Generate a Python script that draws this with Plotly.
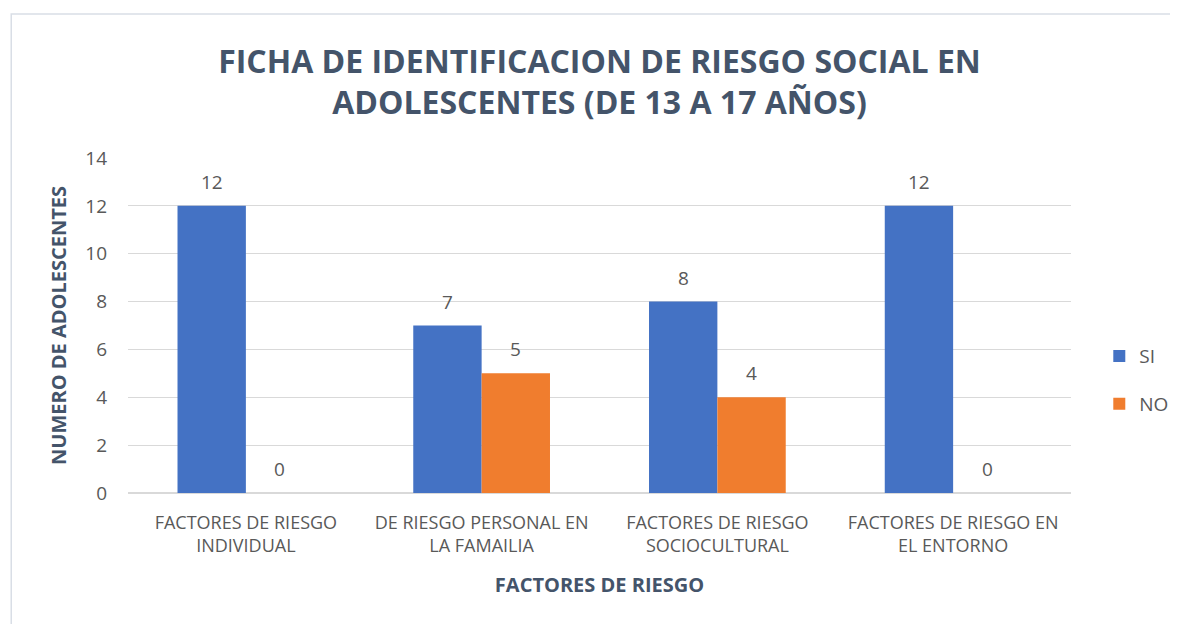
import plotly.graph_objects as go

categories = [
    "FACTORES DE RIESGO<br>INDIVIDUAL",
    "DE RIESGO PERSONAL EN<br>LA FAMAILIA",
    "FACTORES DE RIESGO<br>SOCIOCULTURAL",
    "FACTORES DE RIESGO EN<br>EL ENTORNO",
]
si_values = [12, 7, 8, 12]
no_values = [0, 5, 4, 0]
y_ticks = [0, 2, 4, 6, 8, 10, 12, 14]

FONT = "Open Sans"
TXT = "#44546A"
TICK = "#595959"

fig = go.Figure()
fig.add_trace(go.Bar(
    name="SI", x=categories, y=si_values, legendgroup="si",
    marker=dict(color="#4472C4", line=dict(width=0)),
))
fig.add_trace(go.Bar(
    name="NO", x=categories, y=no_values, legendgroup="no",
    marker=dict(color="#F07D2E", line=dict(width=0)),
))

annotations = []
for vals, shift in ((si_values, -34), (no_values, 34)):
    for c, v in zip(categories, vals):
        annotations.append(dict(
            x=c, y=v, xref="x", yref="y", text=str(v), showarrow=False,
            xshift=shift, yshift=24, yanchor="middle",
            font=dict(size=19, color=TICK, family=FONT),
        ))

PW = 1178 - 120 - 105
fig.update_layout(
    width=1178, height=624,
    paper_bgcolor="white", plot_bgcolor="white",
    margin=dict(l=120, r=105, t=150, b=139),
    barmode="group", bargap=0.42, bargroupgap=0,
    title=dict(
        text="<b>FICHA DE IDENTIFICACION DE RIESGO SOCIAL EN<br>ADOLESCENTES (DE 13 A 17 AÑOS)</b>",
        x=0.5, xanchor="center", xref="paper", y=0.896, yanchor="top",
        font=dict(size=32, color=TXT, family=FONT),
    ),
    font=dict(family=FONT, color=TICK),
    legend=dict(
        x=1.03, xanchor="left", y=0.337, yanchor="middle",
        font=dict(size=19, color=TICK, family=FONT),
        tracegroupgap=20, itemsizing="constant",
        bgcolor="rgba(0,0,0,0)",
    ),
    xaxis=dict(
        title=dict(text="<b>FACTORES DE RIESGO</b>", font=dict(size=20, color=TXT, family=FONT), standoff=21),
        tickfont=dict(size=18, color=TICK, family=FONT),
        showline=True, linecolor="#D9D9D9", linewidth=1,
        ticks="", ticklabelstandoff=13,
    ),
    yaxis=dict(
        title=dict(text="<b>NUMERO DE ADOLESCENTES</b>", font=dict(size=20, color=TXT, family=FONT), standoff=13),
        range=[0, 14], tickvals=y_ticks,
        tickfont=dict(size=19, color=TICK, family=FONT),
        showgrid=True, gridcolor="#D9D9D9", gridwidth=1,
        zeroline=True, zerolinecolor="#D9D9D9",
        ticks="", ticklabelstandoff=20,
    ),
    annotations=annotations,
    shapes=[dict(
        type="rect", xref="paper", yref="paper",
        x0=(2 - 120) / PW, x1=(1190 - 120) / PW,
        y0=(485 - 640) / 335, y1=(485 - 6) / 335,
        line=dict(color="#D9DEE6", width=1.5), fillcolor="rgba(0,0,0,0)", layer="below",
    )],
)

fig.write_html("out.html")
